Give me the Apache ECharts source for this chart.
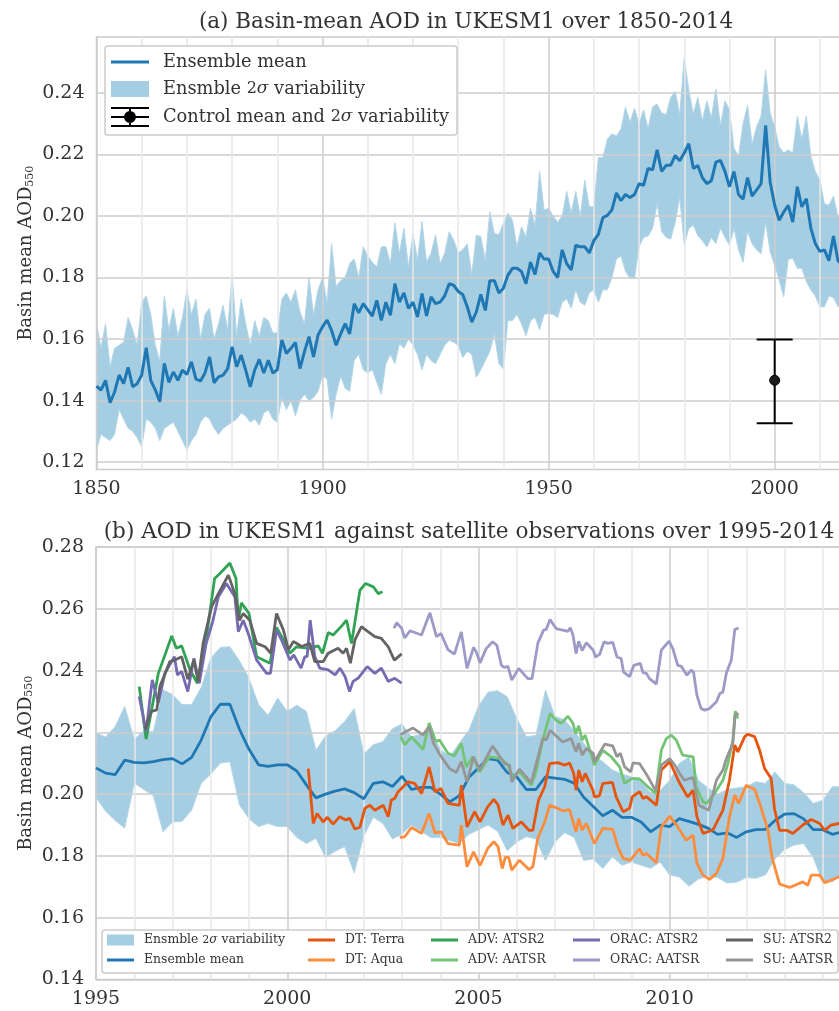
<!DOCTYPE html>
<html>
<head>
<meta charset="utf-8">
<title>Basin-mean AOD in UKESM1</title>
<script src="https://cdn.jsdelivr.net/npm/echarts@6/dist/echarts.min.js"></script>
<style>
html,body{margin:0;padding:0;background:#fff}
#main{width:839px;height:1011px}
</style>
</head>
<body>
<div id="main"></div>
<script>
// panel (a): one value a year, 1850 onwards
var startA = 1850;
var meanA = [
.1447,.1434,.1466,.1393,.1428,.1483,.1455,.1508,.1445,.1455,
.1483,.1572,.1466,.1435,.1396,.1521,.1459,.1493,.1466,.1499,
.1485,.1526,.147,.1464,.149,.1542,.1458,.1477,.1483,.1504,
.1575,.151,.1548,.1499,.1445,.15,.1534,.149,.1531,.149,
.15,.1597,.1553,.157,.1589,.1504,.1559,.1608,.1542,.1613,
.164,.1662,.1628,.158,.1617,.165,.1617,.1715,.1685,.1715,
.1695,.1675,.1726,.1661,.172,.1677,.178,.172,.175,.17,
.172,.1672,.1748,.1675,.1737,.1715,.172,.174,.178,.1775,
.1755,.1745,.1705,.1655,.1688,.1745,.1693,.179,.179,.175,
.1765,.1808,.183,.183,.182,.178,.185,.181,.188,.186,
.186,.182,.18,.189,.1845,.1825,.1905,.19,.19,.188,
.192,.194,.1995,.2002,.202,.2075,.205,.207,.206,.207,
.2105,.21,.2155,.215,.2215,.2145,.2165,.2165,.2197,.218,
.2205,.2235,.2155,.2164,.2125,.2105,.2115,.2175,.2181,.2145,
.2095,.2145,.207,.2055,.2125,.2065,.2085,.2105,.2295,.211,
.2035,.1986,.2013,.2035,.198,.2095,.203,.2056,.196,.191,
.1885,.189,.1855,.1935,.1855,.184];
var upperA = [
.165,.157,.165,.151,.157,.158,.159,.167,.163,.158,
.172,.174,.168,.158,.153,.174,.163,.17,.161,.167,
.176,.168,.173,.16,.168,.17,.16,.165,.171,.163,
.181,.161,.173,.165,.158,.166,.161,.167,.166,.162,
.162,.173,.175,.172,.176,.169,.165,.18,.168,.176,
.18,.172,.191,.177,.179,.18,.1846,.186,.18,.19,
.187,.185,.1835,.19,.19,.1846,.1978,.188,.196,.1835,
.1943,.1857,.1982,.185,.188,.1938,.1846,.1878,.1949,.1922,
.188,.189,.191,.181,.1938,.1933,.1857,.2014,.1943,.194,
.1976,.2009,.1987,.19,.1965,.1933,.2025,.197,.2145,.202,
.2025,.2,.198,.2,.208,.201,.208,.2,.2116,.203,
.203,.219,.219,.225,.2267,.226,.2283,.2354,.2305,.235,
.23,.2345,.2285,.2355,.2364,.2335,.233,.2386,.2405,.233,
.2516,.241,.2332,.2386,.231,.2375,.232,.2413,.2295,.2375,
.2345,.222,.2195,.23,.236,.2235,.229,.2325,.2475,.2335,
.229,.2225,.2205,.2215,.2205,.2325,.225,.2325,.2195,.2145,
.2116,.204,.2035,.2065,.2,.2];
var lowerA = [
.124,.129,.128,.127,.129,.137,.134,.131,.13,.128,
.125,.134,.133,.131,.127,.131,.132,.133,.13,.127,
.124,.127,.129,.133,.135,.134,.131,.129,.131,.132,
.133,.134,.136,.135,.133,.134,.132,.136,.137,.134,
.133,.141,.137,.14,.135,.14,.142,.14,.141,.143,
.148,.147,.134,.142,.148,.144,.143,.153,.155,.15,
.149,.15,.146,.142,.152,.155,.152,.1585,.157,.16,
.158,.155,.15,.155,.153,.152,.155,.158,.1596,.159,
.158,.154,.156,.155,.1476,.15,.153,.156,.1617,.152,
.1503,.166,.166,.168,.165,.161,.166,.167,.163,.168,
.1683,.168,.167,.172,.173,.17,.176,.172,.171,.175,
.176,.172,.176,.176,.18,.186,.187,.182,.1797,.1798,
.19,.193,.1935,.196,.204,.195,.193,.1925,.198,.206,
.1906,.196,.197,.1937,.192,.1899,.193,.191,.196,.193,
.1905,.196,.189,.185,.195,.191,.189,.1878,.198,.1883,
.184,.1791,.1737,.186,.1862,.183,.183,.1786,.176,.174,
.1705,.1705,.174,.1735,.1705,.172];
var controlYear = 2000, controlMean = .1466, controlLow = .1326, controlHigh = .1599;
var ticksA = [.12,.14,.16,.18,.20,.22,.24];

// panel (b): model ensemble, four values a year, 1995 onwards
var startB = 1995;
var meanB = [
.2085,.2068,.2063,.211,.2103,.2101,.2105,.2112,.2115,.2098,.2119,.2175,
.225,.2291,.2291,.221,.2145,.2095,.209,.2095,.2095,.2075,.203,.1988,
.2,.201,.2017,.2005,.1985,.2035,.204,.2025,.2058,.2015,.2022,.2022,
.2,.1975,.1995,.2055,.2085,.2115,.211,.207,.2056,.2015,.2015,.2056,
.2052,.2048,.2035,.199,.196,.193,.1948,.1925,.1925,.191,.1878,.19,
.1895,.1921,.1912,.1902,.189,.187,.1875,.186,.1878,.1885,.1886,.1915,
.1935,.1937,.192,.1885,.1885,.187,.1878];
var upperB = [
.2198,.2185,.2218,.2284,.2178,.2205,.2202,.2338,.2322,.229,.229,.2345,
.244,.2475,.2477,.2432,.2375,.229,.2255,.2311,.2268,.2288,.2268,.2142,
.2188,.2205,.2235,.2277,.213,.216,.217,.2212,.2227,.2185,.2195,.2212,
.2145,.2122,.2165,.2207,.2285,.233,.2335,.2315,.2245,.2186,.219,.2337,
.2252,.224,.2205,.2165,.2125,.2105,.2078,.2065,.2056,.204,.2005,.2012,
.2045,.21,.212,.2045,.202,.2,.2015,.202,.2024,.204,.2035,.2072,
.2035,.203,.2005,.197,.198,.2024,.2024];
var lowerB = [
.199,.1945,.1915,.189,.2035,.2015,.1995,.1878,.191,.1912,.1948,.2035,
.2065,.21,.2105,.1965,.192,.1895,.1905,.1895,.1895,.186,.184,.1857,
.1795,.1815,.183,.1745,.1865,.1925,.1905,.1855,.187,.19,.188,.186,
.186,.185,.184,.187,.1885,.19,.188,.1817,.1845,.1862,.1855,.1785,
.1845,.1875,.186,.1785,.179,.1759,.1797,.177,.178,.177,.176,.178,
.1738,.1732,.1702,.1725,.1735,.173,.1712,.1715,.173,.1728,.1738,.179,
.182,.1835,.184,.1795,.1716,.1716,.174];

// satellite records as [year, AOD]
var dtTerra = [[2000.55,.2083],[2000.68,.1905],[2000.78,.1937],[2000.94,.191],[2001.05,.1925],[2001.2,.1903],[2001.37,.1927],[2001.53,.1916],[2001.63,.1922],[2001.77,.1887],[2001.9,.1893],[2002.03,.1954],[2002.16,.1964],[2002.29,.1948],[2002.51,.1964],[2002.64,.1927],[2002.72,.1981],[2002.81,.1986],[2002.9,.2008],[2003.16,.204],[2003.33,.2035],[2003.51,.2002],[2003.71,.2088],[2003.86,.2008],[2004.02,.2018],[2004.2,.197],[2004.5,.1964],[2004.55,.2029],[2004.7,.1894],[2004.9,.1943],[2005.04,.191],[2005.24,.1959],[2005.4,.1983],[2005.51,.1965],[2005.64,.19],[2005.77,.1932],[2005.9,.1889],[2006.12,.191],[2006.32,.1883],[2006.42,.1883],[2006.57,.1981],[2006.73,.2024],[2006.86,.2099],[2007.07,.2102],[2007.25,.2094],[2007.38,.2101],[2007.49,.2067],[2007.55,.2013],[2007.62,.2078],[2007.71,.204],[2007.79,.2067],[2007.99,.2013],[2008.03,.1991],[2008.16,.1994],[2008.25,.2035],[2008.5,.2038],[2008.6,.1991],[2008.78,.1943],[2008.95,.1954],[2009.02,.1991],[2009.21,.2008],[2009.3,.1986],[2009.39,.1992],[2009.65,.1964],[2009.78,.2078],[2010,.2105],[2010.26,.2035],[2010.47,.1991],[2010.61,.2013],[2010.71,.1927],[2010.87,.1873],[2011.13,.1884],[2011.39,.1948],[2011.56,.2045],[2011.7,.2159],[2011.78,.2137],[2011.96,.2186],[2012.04,.2194],[2012.22,.2186],[2012.35,.2142],[2012.48,.2083],[2012.65,.2051],[2012.74,.1951],[2012.87,.1883],[2013.05,.1883],[2013.22,.1873],[2013.48,.19],[2013.7,.1918],[2013.92,.1905],[2014.05,.1883],[2014.22,.19],[2014.42,.1905],[2014.79,.191]];
var dtAqua = [[2002.94,.186],[2003.07,.1862],[2003.25,.1892],[2003.51,.1873],[2003.71,.1937],[2003.86,.1875],[2004.02,.1878],[2004.2,.184],[2004.5,.1835],[2004.55,.19],[2004.7,.1765],[2004.87,.1813],[2005.04,.1769],[2005.24,.1824],[2005.4,.1846],[2005.51,.183],[2005.62,.1759],[2005.7,.1795],[2005.79,.1795],[2005.87,.1754],[2006.07,.1786],[2006.32,.1756],[2006.42,.1765],[2006.55,.1857],[2006.73,.191],[2006.86,.1964],[2006.99,.1958],[2007.2,.1946],[2007.38,.195],[2007.55,.1878],[2007.62,.1921],[2007.71,.1883],[2007.82,.1905],[2008.03,.184],[2008.25,.1889],[2008.51,.1886],[2008.64,.183],[2008.78,.1792],[2008.97,.1786],[2009.21,.1824],[2009.3,.1802],[2009.39,.1808],[2009.65,.1778],[2009.78,.1894],[2010,.1929],[2010.21,.1894],[2010.43,.1851],[2010.61,.1867],[2010.71,.1776],[2010.87,.1738],[2011.04,.1724],[2011.22,.1743],[2011.39,.1792],[2011.56,.1927],[2011.7,.1997],[2011.8,.197],[2012,.2029],[2012.22,.2015],[2012.35,.197],[2012.57,.1883],[2012.67,.1797],[2012.87,.1709],[2013.13,.1698],[2013.48,.1716],[2013.61,.1705],[2013.7,.1738],[2013.92,.1738],[2014.05,.1713],[2014.42,.1732],[2014.79,.1738]];
var advAtsr2 = [[1996.13,.2348],[1996.31,.2178],[1996.63,.2391],[1996.98,.2512],[1997.1,.2472],[1997.24,.248],[1997.46,.2402],[1997.65,.2359],[1997.9,.252],[1998.1,.2698],[1998.24,.2714],[1998.5,.2748],[1998.66,.2698],[1998.72,.2563],[1998.8,.2619],[1999,.2585],[1999.2,.2445],[1999.55,.2424],[1999.72,.2540],[1999.9,.2499],[2000.07,.2456],[2000.24,.2477],[2000.59,.2472],[2000.81,.248],[2000.92,.2456],[2001.07,.2523],[2001.2,.2515],[2001.42,.2544],[2001.55,.2563],[2001.68,.2488],[2001.81,.259],[2001.9,.266],[2002.05,.2682],[2002.25,.2671],[2002.38,.2649],[2002.49,.2655]];
var advAatsr = [[2002.96,.2187],[2003.07,.216],[2003.25,.2185],[2003.55,.2144],[2003.71,.223],[2003.88,.2171],[2003.98,.2175],[2004.2,.2132],[2004.37,.2124],[2004.55,.2164],[2004.68,.2088],[2004.85,.2121],[2005.03,.2072],[2005.29,.2121],[2005.59,.2115],[2005.77,.2094],[2005.88,.2056],[2006.07,.2072],[2006.38,.2029],[2006.51,.2075],[2006.68,.2175],[2006.87,.2261],[2007.03,.2239],[2007.16,.2229],[2007.34,.2252],[2007.47,.2229],[2007.54,.2196],[2007.62,.2221],[2007.71,.2175],[2007.79,.2191],[2008.03,.2094],[2008.25,.2142],[2008.47,.2121],[2008.69,.2088],[2008.82,.2035],[2009.02,.2051],[2009.21,.2049],[2009.43,.2024],[2009.63,.2002],[2009.78,.2142],[2009.91,.218],[2010.04,.2191],[2010.17,.2175],[2010.34,.2126],[2010.61,.2121],[2010.69,.2024],[2010.87,.1975],[2010.96,.197],[2011.17,.2002],[2011.39,.2045],[2011.52,.2099],[2011.65,.2175],[2011.71,.2269],[2011.78,.2245]];
var oracAtsr2 = [[1996.13,.2316],[1996.31,.2203],[1996.47,.237],[1996.63,.2295],[1996.8,.2391],[1997.05,.2445],[1997.13,.2386],[1997.24,.2397],[1997.4,.2332],[1997.56,.244],[1997.7,.2359],[1997.88,.2488],[1998.05,.2558],[1998.2,.2639],[1998.41,.2682],[1998.63,.2639],[1998.72,.2526],[1998.85,.2563],[1998.98,.252],[1999.2,.2434],[1999.46,.2391],[1999.56,.2391],[1999.72,.2531],[1999.85,.2499],[2000.07,.2434],[2000.17,.2451],[2000.36,.2408],[2000.46,.2445],[2000.52,.2445],[2000.6,.2563],[2000.72,.2445],[2000.85,.2408],[2001.07,.2402],[2001.25,.2386],[2001.38,.2408],[2001.51,.2381],[2001.63,.2332],[2001.72,.2365],[2001.85,.2375],[2002.09,.2413],[2002.29,.2391],[2002.46,.2408],[2002.64,.2365],[2002.81,.2375],[2002.99,.2359]];
var oracAatsr = [[2002.79,.2537],[2002.86,.2555],[2002.99,.2537],[2003.07,.2506],[2003.21,.2529],[2003.51,.2515],[2003.73,.2587],[2003.9,.251],[2004.02,.252],[2004.2,.2468],[2004.37,.2453],[2004.55,.2525],[2004.7,.2407],[2004.87,.2475],[2004.94,.2461],[2005.04,.2425],[2005.2,.2471],[2005.37,.2493],[2005.48,.2482],[2005.6,.2417],[2005.68,.2410],[2005.77,.2414],[2005.87,.2369],[2006.05,.2407],[2006.29,.2374],[2006.4,.2374],[2006.55,.2488],[2006.7,.2531],[2006.77,.2533],[2006.87,.2565],[2007.03,.2536],[2007.34,.2527],[2007.4,.2539],[2007.47,.2515],[2007.55,.2455],[2007.62,.2495],[2007.71,.2465],[2007.82,.249],[2008,.2466],[2008.06,.2444],[2008.17,.2453],[2008.28,.2493],[2008.38,.2488],[2008.51,.2491],[2008.62,.2444],[2008.73,.2439],[2008.79,.2396],[2008.95,.238],[2009.06,.2417],[2009.23,.2423],[2009.3,.2393],[2009.39,.2391],[2009.47,.2374],[2009.65,.2356],[2009.78,.2466],[2009.98,.2495],[2010.08,.2471],[2010.21,.2417],[2010.3,.2414],[2010.45,.2385],[2010.56,.2401],[2010.62,.2396],[2010.71,.232],[2010.82,.2277],[2010.91,.2272],[2011.04,.2277],[2011.22,.2299],[2011.31,.2326],[2011.39,.2331],[2011.48,.2391],[2011.61,.2434],[2011.7,.2533],[2011.8,.2538]];
var suAtsr2 = [[1996.28,.2209],[1996.45,.2268],[1996.59,.2273],[1996.67,.2348],[1996.93,.2429],[1997.06,.2434],[1997.24,.2445],[1997.4,.2372],[1997.56,.2434],[1997.67,.2365],[1997.8,.2488],[1998.02,.2606],[1998.2,.2649],[1998.46,.2709],[1998.63,.2649],[1998.75,.2563],[1998.85,.2585],[1999.02,.2563],[1999.2,.2488],[1999.42,.2477],[1999.57,.2456],[1999.72,.2585],[1999.9,.2531],[2000.03,.2467],[2000.16,.2494],[2000.38,.2478],[2000.59,.2488],[2000.72,.2429],[2000.94,.2429],[2001.07,.2456],[2001.33,.2472],[2001.46,.2456],[2001.55,.2472],[2001.65,.2424],[2001.77,.2499],[2001.94,.2542],[2002.11,.2526],[2002.29,.251],[2002.46,.2504],[2002.64,.2477],[2002.8,.2434],[2002.99,.2454]];
var suAatsr = [[2002.96,.2192],[2003.07,.22],[2003.29,.2214],[2003.55,.2192],[2003.71,.2219],[2003.82,.2165],[2003.99,.2128],[2004.02,.2124],[2004.24,.2083],[2004.42,.207],[2004.55,.2105],[2004.7,.204],[2004.87,.2121],[2005.03,.2078],[2005.37,.2156],[2005.68,.2099],[2005.81,.2094],[2005.87,.204],[2006.07,.2081],[2006.38,.2037],[2006.68,.218],[2006.77,.2175],[2006.87,.2207],[2007.2,.2169],[2007.42,.218],[2007.55,.2137],[2007.62,.2164],[2007.71,.2126],[2007.82,.2148],[2008,.2132],[2008.03,.2105],[2008.3,.2162],[2008.51,.2156],[2008.62,.2121],[2008.71,.2132],[2008.82,.2088],[2008.98,.2072],[2009.04,.2101],[2009.21,.2099],[2009.43,.2056],[2009.63,.2011],[2009.78,.2094],[2010,.2115],[2010.13,.2094],[2010.26,.2067],[2010.38,.2045],[2010.61,.2054],[2010.76,.1964],[2011.02,.1948],[2011.22,.2045],[2011.39,.2078],[2011.48,.2115],[2011.65,.2164],[2011.71,.2256],[2011.8,.2261]];
var ticksB = [.14,.16,.18,.20,.22,.24,.26,.28];

var BAND = '#a6cee3', MEAN = '#1f78b4', GRID = '#cccccc', GRID2 = '#e8e8e8', INK = '#333333';
var SERIF = '"DejaVu Serif"';

function pairs(start, step, values) {
	return values.map(function (v, i) { return [start + i * step, v]; });
}

// filled region between two lists, placed through the axes
function bandSeries(name, xi, start, step, upper, lower) {
	return {
		name: name, type: 'custom', xAxisIndex: xi, yAxisIndex: xi, z: 1, clip: true, silent: true,
		itemStyle: {color: BAND},
		data: [[start, upper[0]]],
		renderItem: function (params, api) {
			var pts = [], i;
			for (i = 0; i < upper.length; i++) pts.push(api.coord([start + i * step, upper[i]]));
			for (i = lower.length - 1; i >= 0; i--) pts.push(api.coord([start + i * step, lower[i]]));
			return {type: 'polygon', shape: {points: pts}, style: {fill: BAND, stroke: '#b4d6e8', lineWidth: 1}};
		}
	};
}

function lineSeries(name, xi, color, data, width) {
	return {
		name: name, type: 'line', xAxisIndex: xi, yAxisIndex: xi, z: 5, symbol: 'none', silent: true,
		data: data, itemStyle: {color: color}, lineStyle: {color: color, width: width},
		lineJoin: 'round', animation: false
	};
}

var controlSeries = {
	name: 'Control mean and 2σ variability', type: 'custom', xAxisIndex: 0, yAxisIndex: 0, z: 6, silent: true,
	itemStyle: {color: '#000'},
	data: [[controlYear, controlMean]],
	renderItem: function (params, api) {
		var m = api.coord([controlYear, controlMean]);
		var lo = api.coord([controlYear, controlLow]);
		var hi = api.coord([controlYear, controlHigh]);
		var st = {stroke: '#000', lineWidth: 2, fill: null};
		return {type: 'group', children: [
			{type: 'line', shape: {x1: m[0], y1: lo[1], x2: m[0], y2: hi[1]}, style: st},
			{type: 'line', shape: {x1: m[0] - 18, y1: lo[1], x2: m[0] + 18, y2: lo[1]}, style: st},
			{type: 'line', shape: {x1: m[0] - 18, y1: hi[1], x2: m[0] + 18, y2: hi[1]}, style: st},
			{type: 'circle', shape: {cx: m[0], cy: m[1], r: 5}, style: {fill: '#1c1c1c', stroke: '#000', lineWidth: 1}}
		]};
	}
};

var LINE_ICON = 'path://M0 0H38V3H0Z';
var BAR_ICON = 'path://M0 0H38V2H0Z M0 9H38V11H0Z M0 18H38V20H0Z M18 0H20V20H18Z M19 4a6 6 0 1 1 -.01 0Z';

function sigmaText(name) {
	return name.replace('2σ', '{m|2}{i|σ}');
}

function legendB(left, data) {
	return {
		left: left, top: 934, orient: 'vertical', z: 10, selectedMode: false, padding: 0,
		itemWidth: 27, itemHeight: 11, itemGap: 8,
		formatter: sigmaText,
		textStyle: {fontFamily: SERIF, fontSize: 12.4, color: INK, padding: [0, 0, 0, 5],
			rich: {m: {fontFamily: SERIF, fontSize: 11, color: INK}, i: {fontFamily: SERIF, fontStyle: 'italic', fontSize: 12, color: INK}}},
		data: data
	};
}

var lineIconB = 'path://M0 0H27V3H0Z';
function item(name, icon) { return {name: name, icon: icon}; }

var nameRich = {t: {fontFamily: SERIF, fontSize: 18, color: INK}, s: {fontFamily: SERIF, fontSize: 11, color: INK, verticalAlign: 'bottom', padding: [6, 0, 0, 0]}};

function xAxisOf(index, min, max, interval) {
	return {type: 'value', gridIndex: index, min: min, max: max, interval: interval, z: 3,
		axisLine: {show: false}, axisTick: {show: false},
		axisLabel: {fontFamily: SERIF, fontSize: 19, color: INK, margin: 10,
			formatter: function (v) { return v % interval === 0 && v < 2015 ? String(v) : ''; }},
		splitLine: {show: true, lineStyle: {color: GRID, width: 1.5}},
		minorTick: {show: false, splitNumber: 5},
		minorSplitLine: {show: true, lineStyle: {color: GRID2, width: 1.5}}};
}

function yAxisOf(index, min, max, ticks) {
	return {type: 'value', gridIndex: index, min: min, max: max, z: 3,
		name: '{t|Basin mean AOD}{s|550}', nameLocation: 'middle', nameGap: 61, nameRotate: 90, nameMoveOverlap: false,
		nameTextStyle: {rich: nameRich},
		axisLine: {show: false}, axisTick: {show: false, customValues: ticks},
		axisLabel: {fontFamily: SERIF, fontSize: 19, color: INK, margin: 12, customValues: ticks,
			formatter: function (v) { return v.toFixed(2); }},
		splitLine: {show: true, lineStyle: {color: GRID, width: 1.5}}};
}

var option = {
	animation: false,
	backgroundColor: '#fff',
	title: [
		{text: '(a) Basin-mean AOD in UKESM1 over 1850-2014', left: 461, top: 6, textAlign: 'center',
			textStyle: {fontFamily: SERIF, fontWeight: 'normal', fontSize: 21.5, color: INK}},
		{text: '(b) AOD in UKESM1 against satellite observations over 1995-2014', left: 464, top: 516, textAlign: 'center',
			textStyle: {fontFamily: SERIF, fontWeight: 'normal', fontSize: 21.6, color: INK}}
	],
	grid: [
		{left: 96.5, top: 37, width: 746, height: 432.5, outerBoundsMode: 'none', show: true, borderColor: GRID, borderWidth: 1.5, backgroundColor: '#fff'},
		{left: 96, top: 547, width: 765, height: 432.5, outerBoundsMode: 'none', show: true, borderColor: GRID, borderWidth: 1.5, backgroundColor: '#fff'}
	],
	xAxis: [xAxisOf(0, 1850, 2015, 50), xAxisOf(1, 1995, 2015, 5)],
	yAxis: [yAxisOf(0, .1176, .2582, ticksA), yAxisOf(1, .14, .28, ticksB)],
	legend: [
		{left: 111, top: 53, orient: 'vertical', z: 10, selectedMode: false, padding: 0,
			itemWidth: 38, itemHeight: 20, itemGap: 9,
			formatter: sigmaText,
			textStyle: {fontFamily: SERIF, fontSize: 17.8, color: INK, padding: [0, 0, 0, 9],
				rich: {m: {fontFamily: SERIF, fontSize: 16, color: INK}, i: {fontFamily: SERIF, fontStyle: 'italic', fontSize: 17, color: INK}}},
			data: [item('Ensemble mean', LINE_ICON), item('Ensmble 2σ variability', 'path://M0 0H38V16H0Z'), item('Control mean and 2σ variability', BAR_ICON)]},
		legendB(107, [item('Ensmble 2σ variability', 'path://M0 0H27V11H0Z'), item('Ensemble mean', lineIconB)]),
		legendB(308, [item('DT: Terra', lineIconB), item('DT: Aqua', lineIconB)]),
		legendB(431, [item('ADV: ATSR2', lineIconB), item('ADV: AATSR', lineIconB)]),
		legendB(573, [item('ORAC: ATSR2', lineIconB), item('ORAC: AATSR', lineIconB)]),
		legendB(726, [item('SU: ATSR2', lineIconB), item('SU: AATSR', lineIconB)])
	],
	graphic: {elements: [
		{type: 'rect', z: 9, shape: {x: 105, y: 46, width: 352, height: 89, r: 3}, style: {fill: '#fff', stroke: GRID, lineWidth: 1.5}},
		{type: 'rect', z: 9, shape: {x: 102, y: 930, width: 736, height: 43, r: 3}, style: {fill: '#fff', stroke: GRID, lineWidth: 1.5}}
	]},
	series: [
		bandSeries('Ensmble 2σ variability', 0, startA, 1, upperA, lowerA),
		lineSeries('Ensemble mean', 0, MEAN, pairs(startA, 1, meanA), 3),
		controlSeries,
		bandSeries('Ensmble 2σ variability', 1, startB, .25, upperB, lowerB),
		lineSeries('Ensemble mean', 1, MEAN, pairs(startB, .25, meanB), 2.8),
		lineSeries('DT: Terra', 1, '#e6550d', dtTerra, 2.8),
		lineSeries('DT: Aqua', 1, '#fd8d3c', dtAqua, 2.8),
		lineSeries('ADV: ATSR2', 1, '#31a354', advAtsr2, 2.8),
		lineSeries('ADV: AATSR', 1, '#74c476', advAatsr, 2.8),
		lineSeries('ORAC: ATSR2', 1, '#756bb1', oracAtsr2, 2.8),
		lineSeries('ORAC: AATSR', 1, '#9e9ac8', oracAatsr, 2.8),
		lineSeries('SU: ATSR2', 1, '#636363', suAtsr2, 2.8),
		lineSeries('SU: AATSR', 1, '#969696', suAatsr, 2.8)
	]
};

var myChart = echarts.init(document.getElementById('main'));
myChart.setOption(option);
</script>
</body>
</html>
